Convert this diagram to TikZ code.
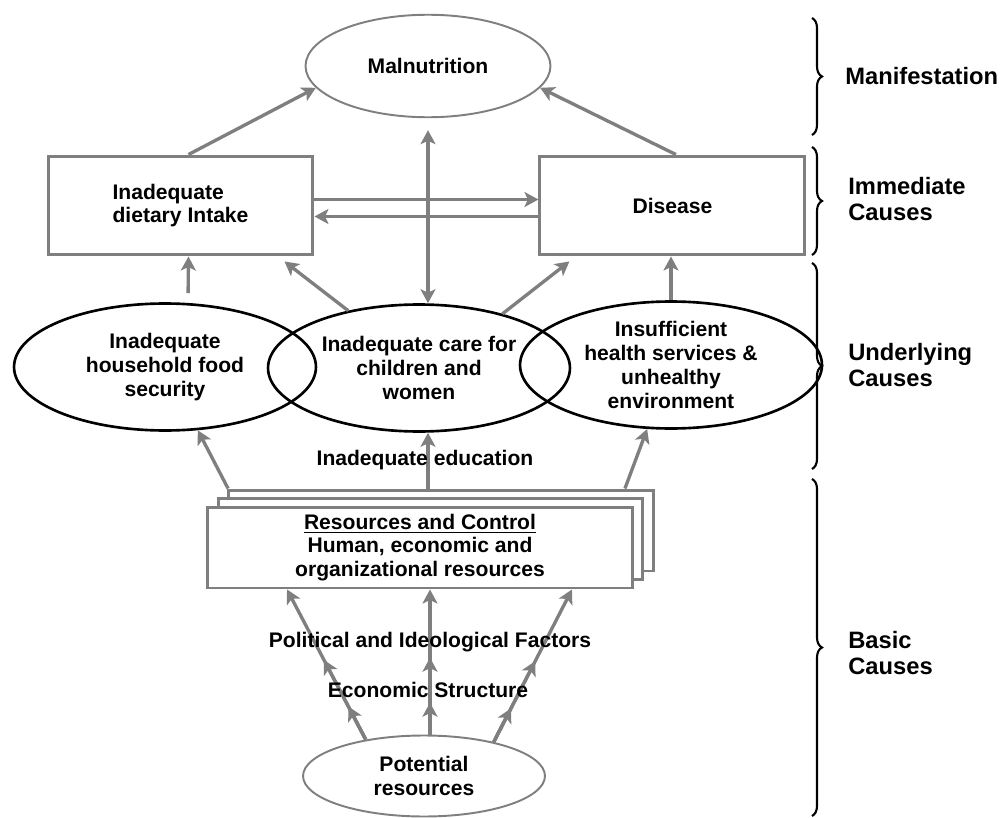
\documentclass[tikz,border=0pt]{standalone}
\usepackage{fontspec}
\setmainfont{Liberation Sans}
\usepackage{tikz}
\usetikzlibrary{shapes.geometric, arrows.meta, positioning, calc, decorations.pathreplacing}
\definecolor{linegray}{HTML}{7F7F7F}

\begin{document}
\begin{tikzpicture}[
    x=0.02cm, y=-0.02cm,
    txt/.style={font=\bfseries\fontsize{12}{13.5}\selectfont, align=center},
    box/.style={txt, rectangle, draw=linegray, line width=1.7pt, fill=white,
                minimum width=5.3cm, minimum height=1.98cm},
    stackbox/.style={rectangle, draw=linegray, line width=1.7pt, fill=white,
                minimum width=8.5cm, minimum height=1.62cm, inner sep=1pt},
    greyoval/.style={txt, ellipse, draw=linegray, line width=1.1pt,
                minimum width=4.9cm, minimum height=2.05cm},
    blackoval/.style={txt, ellipse, draw=black, line width=1.5pt, inner sep=0pt,
                minimum width=6.04cm, minimum height=2.54cm},
    arrow/.style={-{Stealth[length=0.28cm, width=0.3cm, inset=0.07cm]},
                line width=1.9pt, color=linegray},
    dblarrow/.style={arrow, {Stealth[length=0.28cm, width=0.3cm, inset=0.07cm]}-{Stealth[length=0.28cm, width=0.3cm, inset=0.07cm]}},
    level/.style={font=\bfseries\fontsize{13.5}{15}\selectfont, align=left,
                anchor=west, inner sep=0pt},
    brace/.style={decorate, decoration={brace, amplitude=0.2cm}, line width=1.2pt}
]
\useasboundingbox (0,0) rectangle (1005,818);

% Manifestation
\node[greyoval] (malnut) at (428,66) {Malnutrition};

% Immediate causes
\node[box, align=left] (diet) at (180.5,205.5) {Inadequate\\dietary Intake};
\node[box, right=4.48cm of diet] (disease) {Disease};

% Underlying causes
\node[blackoval] (food) at (165,367) {Inadequate\\household food\\security};
\node[blackoval] (care) at (419,368) {Inadequate care for\\children and\\women};
\node[blackoval] (health) at (671,365) {Insufficient\\health services \&\\unhealthy\\environment};

% Basic causes
\node[stackbox] (res3) at (441,530.5) {};
\node[stackbox] (res2) at (430.5,539) {};
\node[stackbox, txt] (res) at (420,547.5) {\underline{Resources and Control}\\Human, economic and\\organizational resources};
\node[greyoval, minimum width=4.84cm, minimum height=1.62cm] (pot) at (424,776) {Potential\\resources};

% Immediate -> manifestation
\draw[arrow] ([xshift=0.16cm]diet.north) -- (malnut.191);
\draw[arrow] ([xshift=0.07cm]disease.north) -- (malnut.-11);
\draw[arrow] ([yshift=0.12cm]diet.east) -- ([yshift=0.12cm]disease.west);
\draw[arrow] ([yshift=-0.22cm]disease.west) -- ([yshift=-0.22cm]diet.east);
\draw[dblarrow, shorten >=0.24cm] (malnut.south |- care.north) -- (malnut.south);

% Underlying -> immediate
\draw[arrow, shorten <=0.18cm] ([xshift=0.46cm]food.north) -- ([xshift=0.16cm]diet.south);
\draw[arrow] (care.141) -- ([xshift=-0.6cm, yshift=-0.1cm]diet.south east);
\draw[arrow] (care.33) -- ([xshift=0.62cm, yshift=-0.1cm]disease.south west);
\draw[arrow] (health.north) -- (health.north |- disease.south);

% Basic -> underlying
\draw[arrow] ([xshift=0.02cm]res3.north west) -- (food);
\draw[arrow] ([xshift=-0.6cm]res3.north east) -- (health);
\draw[arrow] (malnut.south |- res3.north) -- (malnut.south |- care.south);

% Potential resources -> resources and control
\coordinate (l0) at (pot.148);
\coordinate (l1) at ([xshift=-2.66cm]res.south);
\coordinate (m1) at ([xshift=0.2cm]res.south);
\coordinate (m0) at (pot.north -| m1);
\coordinate (r0) at (pot.26);
\coordinate (r1) at ([xshift=3.04cm]res.south);
\draw[arrow] (l0) -- ($(l0)!0.22!(l1)$);
\draw[arrow] (l0) -- ($(l0)!0.53!(l1)$);
\draw[arrow] (l0) -- (l1);
\draw[arrow] (m0) -- ($(m0)!0.22!(m1)$);
\draw[arrow] (m0) -- ($(m0)!0.53!(m1)$);
\draw[arrow] (m0) -- (m1);
\draw[arrow] (r0) -- ($(r0)!0.22!(r1)$);
\draw[arrow] (r0) -- ($(r0)!0.53!(r1)$);
\draw[arrow] (r0) -- (r1);

% Labels on the arrows
\node[txt] (edu) at (425,460) {Inadequate education};
\node[txt] (polit) at (430,642) {Political and Ideological Factors};
\node[txt] (econ) at (428,690) {Economic Structure};

% Levels
\draw[brace] (812,18) -- (812,135);
\draw[brace] (812,147) -- (812,255);
\draw[brace] (812,263) -- (812,469);
\draw[brace] (812,479) -- (812,816);
\node[level] (manif) at (845,76) {Manifestation};
\node[level] (immed) at (848,199) {Immediate\\Causes};
\node[level] (under) at (848,365) {Underlying\\Causes};
\node[level] (basic) at (848,653) {Basic\\Causes};

\end{tikzpicture}
\end{document}
